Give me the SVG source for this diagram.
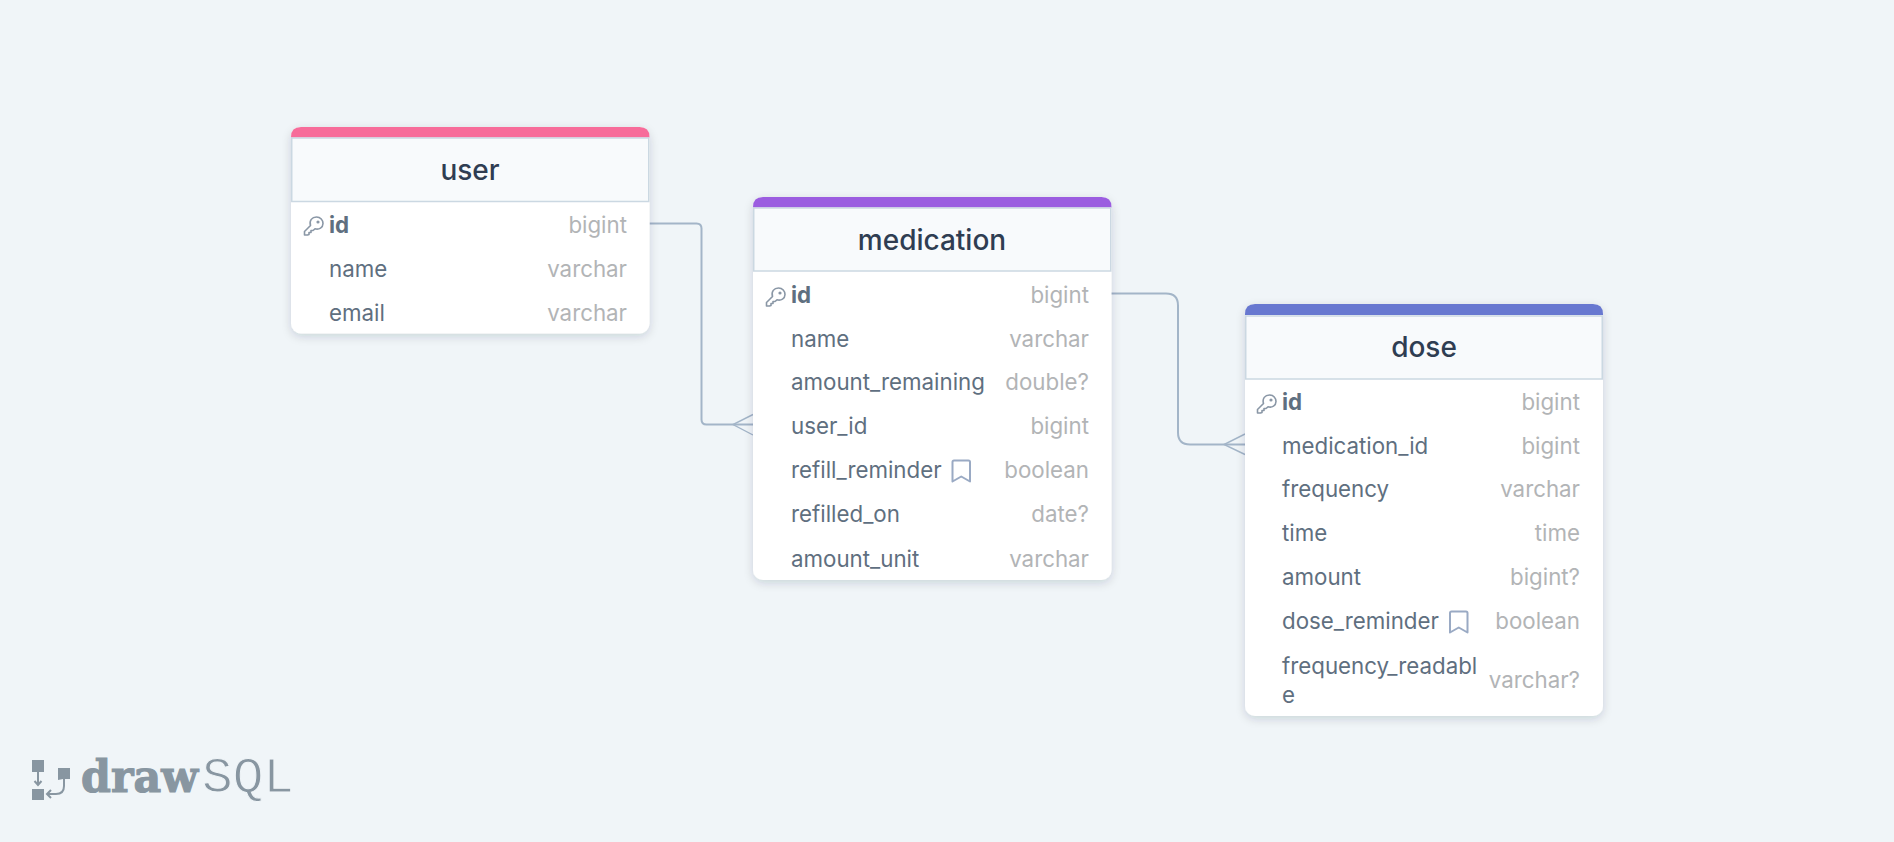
<svg xmlns="http://www.w3.org/2000/svg" width="1894" height="842" viewBox="0 0 1894 842">
<defs>
<style>
text{font-family:Inter,"Noto Sans","Liberation Sans",sans-serif}
.title{font-size:28px;fill:#2f3d52;text-anchor:middle;font-weight:500}
.f{font-size:22.300px;fill:#5f6f80}
.pk{font-weight:700}
.t{font-size:22.300px;fill:#b2b4b6;text-anchor:end}
.hd{fill:#f8fafc;stroke:#cbd8e2;stroke-width:1.5}
.conn{fill:none;stroke:#a3b5c8;stroke-width:2}
.crow{fill:none;stroke:#a3b5c8;stroke-width:1.4}
.ic{fill:none;stroke:#8a97a6;stroke-width:1.600;stroke-linejoin:round;stroke-linecap:round}
.bm{fill:none;stroke:#9aaac4;stroke-width:2;stroke-linejoin:round}
.logo{fill:#8896a1}
</style>
<filter id="sh" x="-10%" y="-10%" width="120%" height="125%"><feDropShadow dx="0" dy="3" stdDeviation="5" flood-color="#1a2a3a" flood-opacity="0.16"/></filter>
<g id="key"><path class="ic" d="M0.500 7 L0.500 3.500 L6.500 -2.500 C5 -7.500 8 -11 12.500 -11 C16.500 -11 19 -8 19 -4.500 C19 -0.500 15 2 11 0.800 L9 2.500 L7 2.500 L7 4.500 L5 4.500 L5 6.500 L3.500 7 Z"/><circle class="ic" cx="14" cy="-6" r="0.800"/></g>
<path id="bmk" class="bm" d="M0 0 Q0 -1.500 1.500 -1.500 L16 -1.500 Q17.500 -1.500 17.500 0 L17.500 19.500 L8.750 14.500 L0 19.500 Z"/>
</defs>
<rect width="1894" height="842" fill="#f0f5f8"/>
<g id="connectors">
<path class="conn" d="M649.500 223.500 H696.500 Q701.500 223.500 701.500 228.500 V419.500 Q701.500 424.500 706.500 424.500 H753"/>
<path class="crow" d="M753 414.500 L733 424.500 L753 435"/>
<path class="conn" d="M1111 293.500 H1166 Q1178 293.500 1178 305.500 V432.500 Q1178 444.500 1190 444.500 H1245"/>
<path class="crow" d="M1245 434 L1224 444.500 L1245 454.500"/>
</g>
<g id="user">
<rect x="291" y="127" width="358.500" height="206.500" rx="10" fill="#fff" filter="url(#sh)"/>
<path d="M291 137.500 V137 Q291 127 301 127 H639.500 Q649.500 127 649.500 137 V137.500 Z" fill="#f76c9a"/>
<rect class="hd" x="291.750" y="138" width="357" height="63.500"/>
<text class="title" x="470" y="180">user</text>
<use href="#key" x="304" y="228"/>
<text class="f pk" x="329" y="232.500">id</text><text class="t" x="627" y="232.500">bigint</text>
<text class="f" x="329" y="276.500">name</text><text class="t" x="627" y="276.500">varchar</text>
<text class="f" x="329" y="320.500">email</text><text class="t" x="627" y="320.500">varchar</text>
</g>
<g id="medication">
<rect x="753" y="197" width="358.500" height="383" rx="10" fill="#fff" filter="url(#sh)"/>
<path d="M753 207.500 V207 Q753 197 763 197 H1101.500 Q1111.500 197 1111.500 207 V207.500 Z" fill="#9b5de0"/>
<rect class="hd" x="753.750" y="208" width="357" height="63"/>
<text class="title" x="932" y="250">medication</text>
<use href="#key" x="766" y="299"/>
<text class="f pk" x="791" y="303">id</text><text class="t" x="1089" y="303">bigint</text>
<text class="f" x="791" y="346.500">name</text><text class="t" x="1089" y="346.500">varchar</text>
<text class="f" x="791" y="389.500">amount_remaining</text><text class="t" x="1089" y="389.500">double?</text>
<text class="f" x="791" y="433.500">user_id</text><text class="t" x="1089" y="433.500">bigint</text>
<text class="f" x="791" y="478">refill_reminder</text><use href="#bmk" x="952.500" y="462"/><text class="t" x="1089" y="478">boolean</text>
<text class="f" x="791" y="522">refilled_on</text><text class="t" x="1089" y="522">date?</text>
<text class="f" x="791" y="566.500">amount_unit</text><text class="t" x="1089" y="566.500">varchar</text>
</g>
<g id="dose">
<rect x="1245" y="304" width="358" height="412" rx="10" fill="#fff" filter="url(#sh)"/>
<path d="M1245 315 V314 Q1245 304 1255 304 H1593 Q1603 304 1603 314 V315 Z" fill="#6878d0"/>
<rect class="hd" x="1245.750" y="316" width="356.500" height="63"/>
<text class="title" x="1424" y="357">dose</text>
<use href="#key" x="1257" y="406"/>
<text class="f pk" x="1282" y="410">id</text><text class="t" x="1580" y="410">bigint</text>
<text class="f" x="1282" y="453.500">medication_id</text><text class="t" x="1580" y="453.500">bigint</text>
<text class="f" x="1282" y="497">frequency</text><text class="t" x="1580" y="497">varchar</text>
<text class="f" x="1282" y="541">time</text><text class="t" x="1580" y="541">time</text>
<text class="f" x="1282" y="584.500">amount</text><text class="t" x="1580" y="584.500">bigint?</text>
<text class="f" x="1282" y="629">dose_reminder</text><use href="#bmk" x="1450" y="613"/><text class="t" x="1580" y="629">boolean</text>
<text class="f" x="1282" y="674">frequency_readabl</text><text class="f" x="1282" y="703">e</text><text class="t" x="1580" y="688">varchar?</text>
</g>
<g id="logo">
<rect class="logo" x="32" y="760" width="12" height="12"/>
<rect class="logo" x="32" y="789" width="12" height="11"/>
<path class="logo" d="M58 768 H70 V779 H63 L58 780 Z"/>
<path fill="none" stroke="#8896a1" stroke-width="2" d="M38 772 V785 M34.500 781 L38 785 L41.500 781 M64 779 V786 Q64 794 56 794 H47 M51 790 L47 794 L51 798"/>
<text x="81" y="792" font-size="45" font-weight="700" fill="#8896a1" stroke="#8896a1" stroke-width="1.200" style="font-family:'DejaVu Serif',serif" textLength="117" lengthAdjust="spacingAndGlyphs">draw</text>
<text x="202" y="792" font-size="50" fill="#8896a1" stroke="#f0f5f8" stroke-width="1" style="font-family:'Liberation Mono',monospace;font-weight:400" textLength="92" lengthAdjust="spacingAndGlyphs">SQL</text>
</g>
</svg>
